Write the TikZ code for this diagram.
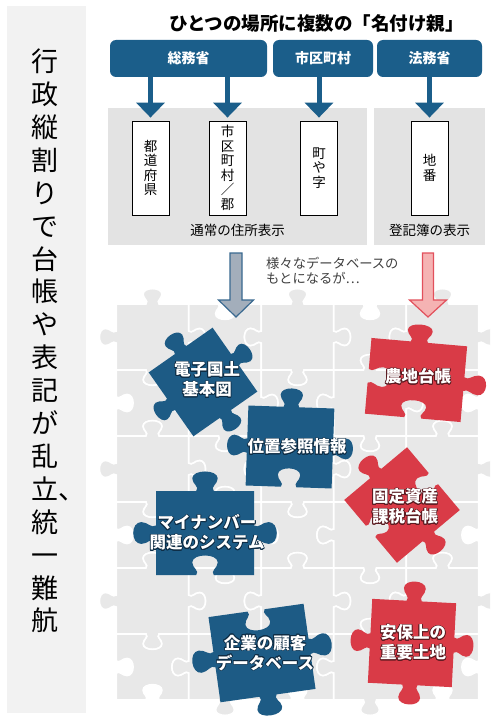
\documentclass[tikz,border=0pt]{standalone}
\usepackage{fontspec}
\setmainfont{Noto Sans CJK JP}
\usepackage{contour}
\contourlength{0.7pt}
\usetikzlibrary{arrows.meta}

\definecolor{hdrblue}{HTML}{1B5E8A}
\definecolor{pzblue}{HTML}{1D5B85}
\definecolor{pzred}{HTML}{D93B47}
\definecolor{bluehalo}{HTML}{0E2C44}
\definecolor{redhalo}{HTML}{5A1A20}
\definecolor{panelgray}{HTML}{E3E3E3}
\definecolor{titlegray}{HTML}{F2F2F2}
\definecolor{bggray}{HTML}{E8E8E8}
\definecolor{arrowgray}{HTML}{A3AEBB}
\definecolor{arrowblue}{HTML}{3A6990}
\definecolor{arrowpink}{HTML}{F5B3B3}
\definecolor{arrowred}{HTML}{E2505C}

% sides of a jigsaw piece (unit square), #1 = tab: 1 out, -1 in, 0 flat
\newcommand\sidebot[1]{-- (-0.09,-0.5)
  .. controls (-0.05,{-0.5-0.05*(#1)}) and (-0.13,{-0.5-0.08*(#1)}) .. (-0.13,{-0.5-0.15*(#1)})
  .. controls (-0.13,{-0.5-0.26*(#1)}) and (0.13,{-0.5-0.26*(#1)}) .. (0.13,{-0.5-0.15*(#1)})
  .. controls (0.13,{-0.5-0.08*(#1)}) and (0.05,{-0.5-0.05*(#1)}) .. (0.09,-0.5) -- (0.5,-0.5)}
\newcommand\sideright[1]{-- (0.5,-0.09)
  .. controls ({0.5+0.05*(#1)},-0.05) and ({0.5+0.08*(#1)},-0.13) .. ({0.5+0.15*(#1)},-0.13)
  .. controls ({0.5+0.26*(#1)},-0.13) and ({0.5+0.26*(#1)},0.13) .. ({0.5+0.15*(#1)},0.13)
  .. controls ({0.5+0.08*(#1)},0.13) and ({0.5+0.05*(#1)},0.05) .. (0.5,0.09) -- (0.5,0.5)}
\newcommand\sidetop[1]{-- (0.09,0.5)
  .. controls (0.05,{0.5+0.05*(#1)}) and (0.13,{0.5+0.08*(#1)}) .. (0.13,{0.5+0.15*(#1)})
  .. controls (0.13,{0.5+0.26*(#1)}) and (-0.13,{0.5+0.26*(#1)}) .. (-0.13,{0.5+0.15*(#1)})
  .. controls (-0.13,{0.5+0.08*(#1)}) and (-0.05,{0.5+0.05*(#1)}) .. (-0.09,0.5) -- (-0.5,0.5)}
\newcommand\sideleft[1]{-- (-0.5,0.09)
  .. controls ({-0.5-0.05*(#1)},0.05) and ({-0.5-0.08*(#1)},0.13) .. ({-0.5-0.15*(#1)},0.13)
  .. controls ({-0.5-0.26*(#1)},0.13) and ({-0.5-0.26*(#1)},-0.13) .. ({-0.5-0.15*(#1)},-0.13)
  .. controls ({-0.5-0.08*(#1)},-0.13) and ({-0.5-0.05*(#1)},-0.05) .. (-0.5,-0.09) -- (-0.5,-0.5)}
\newcommand\piecepath[4]{(-0.5,-0.5) \sidebot{#1} \sideright{#2} \sidetop{#3} \sideleft{#4} -- cycle}

\tikzset{
  hdrbox/.style={fill=hdrblue, rounded corners=6pt, minimum height=37pt, inner sep=0pt,
    text=white, font=\bfseries\fontsize{14}{14}\selectfont},
  panel/.style={fill=panelgray, inner sep=0pt, minimum height=137pt},
  namebox/.style={draw=black, line width=0.8pt, fill=white, minimum width=37pt,
    minimum height=94pt, inner sep=0pt, align=center, font=\fontsize{13.5}{14.5}\selectfont},
  flow/.style={draw=hdrblue, line width=5pt, -{Triangle[width=28pt,length=15pt]}, shorten >=3pt},
  caption/.style={font=\fontsize{13.5}{14}\selectfont, inner sep=0pt},
  bgpiece/.style={fill=bggray, draw=white, line width=1.6pt},
  pzlabel/.style={text=white, align=center, inner sep=0pt, font=\bfseries\fontsize{16.5}{20}\selectfont}
}
\newcommand\bl[1]{\contour{bluehalo}{#1}}
\newcommand\rd[1]{\contour{redhalo}{#1}}

\begin{document}
\begin{tikzpicture}[x=1pt, y=-1pt]
\useasboundingbox (0,0) rectangle (493,722);
\fill[white] (0,0) rectangle (493,722);

% title column
\fill[titlegray] (7,6) rectangle (86,713);
\node[font=\fontsize{27}{32.9}\selectfont, align=center, inner sep=0pt] (title) at (45,341)
  {行\\政\\縦\\割\\り\\で\\台\\帳\\や\\表\\記\\が\\乱\\立\rlap{、}\\統\\一\\難\\航};

% who names what
\node[font=\bfseries\fontsize{18.5}{18.5}\selectfont, inner sep=0pt] (head) at (316.5,23)
  {ひとつの場所に複数の「名付け親」};
\node[hdrbox, minimum width=157pt] (somu) at (188.5,58.5) {総務省};
\node[hdrbox, minimum width=100pt] (shiku) at (323,58.5) {市区町村};
\node[hdrbox, minimum width=105pt] (homu) at (429.5,58.5) {法務省};

\node[panel, minimum width=259pt] (addr) at (237.5,176.5) {};
\node[panel, minimum width=111pt] (reg) at (429.5,176.5) {};

\node[namebox] (todo) at (150.5,168) {都\\道\\府\\県};
\node[namebox] (city) at (227.5,168) {市\\区\\町\\村\\／\\郡};
\node[namebox] (machi) at (319,168) {町\\や\\字};
\node[namebox] (chiban) at (429.5,168) {地\\番};

\draw[flow] (somu.south -| todo.north) -- (todo.north);
\draw[flow] (somu.south -| city.north) -- (city.north);
\draw[flow] (shiku.south -| machi.north) -- (machi.north);
\draw[flow] (homu.south -| chiban.north) -- (chiban.north);

\node[caption] (addrcap) at (237.5,230) {通常の住所表示};
\node[caption] (regcap) at (429.5,230) {登記簿の表示};

% jigsaw background
\begin{scope}
\clip (99,0) rectangle (490,722);
\foreach \i in {0,...,4}{
  \foreach \j in {0,...,5}{
    \pgfmathsetmacro\s{ifthenelse(mod(\i+\j,2)==0,1,-1)}
    \filldraw[bgpiece, shift={(152.5+72.5*\i, 337+66*\j)}, xscale=72.5, yscale=66]
      \piecepath{\s}{\s}{\s}{\s};
  }
}
\end{scope}

% hollow arrows into the databases
\coordinate (addrout) at (236,253);
\coordinate (regout) at (428,253);
\draw[fill=arrowgray, draw=arrowblue, line width=1.2pt, line join=miter]
  (addrout) ++(-6,0) -- ++(0,47) -- ++(-11.5,0) -- ++(17.5,17) -- ++(17.5,-17)
  -- ++(-11.5,0) -- ++(0,-47) -- cycle;
\draw[fill=arrowpink, draw=arrowred, line width=1.2pt, line join=miter]
  (regout) ++(-5.5,0) -- ++(0,47) -- ++(-13,0) -- ++(18.5,17) -- ++(18.5,-17)
  -- ++(-13,0) -- ++(0,-47) -- cycle;
\node[anchor=west, align=left, inner sep=0pt, text=black!75,
  font=\fontsize{13.3}{15}\selectfont] (note) at (266,270.5)
  {様々なデータベースの\\もとになるが…};

% blue pieces
\fill[pzblue, shift={(203,382)}, rotate=35, scale=78] \piecepath{1}{1}{1}{1};
\fill[pzblue, shift={(290,447)}, rotate=-2, xscale=86, yscale=80] \piecepath{1}{1}{-1}{1};
\fill[pzblue, shift={(205,533)}, xscale=98, yscale=84] \piecepath{1}{1}{-1}{1};
\fill[pzblue, shift={(262,653)}, rotate=8, xscale=96, yscale=86] \piecepath{-1}{1}{1}{1};

% red pieces
\fill[pzred, shift={(416,380)}, rotate=-5, xscale=96, yscale=76] \piecepath{1}{1}{-1}{-1};
\fill[pzred, shift={(402,505)}, rotate=40, scale=82] \piecepath{1}{-1}{1}{-1};
\fill[pzred, shift={(412,643)}, rotate=-3, scale=84] \piecepath{1}{1}{1}{1};

\node[pzlabel] (denshi) at (207,380) {\bl{電子国土}\\\bl{基本図}};
\node[pzlabel] (ichi) at (297,447) {\bl{位置参照情報}};
\node[pzlabel] (mynum) at (207,533) {\bl{マイナンバー}\\\bl{関連のシステム}};
\node[pzlabel] (kokyaku) at (265,653) {\bl{企業の顧客}\\\bl{データベース}};
\node[pzlabel] (nochi) at (418,377) {\rd{農地台帳}};
\node[pzlabel] (kotei) at (405,507) {\rd{固定資産}\\\rd{課税台帳}};
\node[pzlabel] (ampo) at (413,643) {\rd{安保上の}\\\rd{重要土地}};
\end{tikzpicture}
\end{document}
